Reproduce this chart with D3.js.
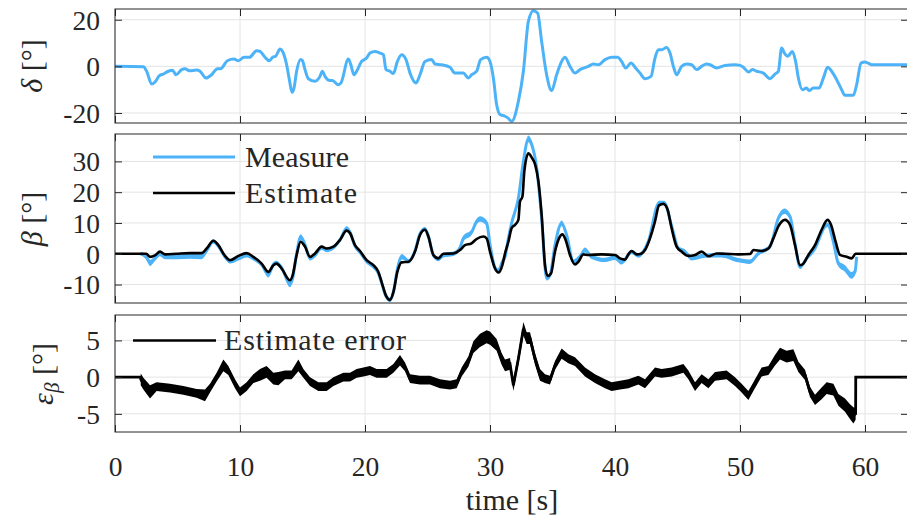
<!DOCTYPE html>
<html><head><meta charset="utf-8">
<script src="https://cdn.jsdelivr.net/npm/d3@7"></script>
<style>
body{margin:0;background:#fff;overflow:hidden}
text{font-family:"Liberation Serif","Times New Roman",serif;fill:#262626}
</style>
</head><body>
<svg id="chart" width="907" height="522"></svg>
<script>
// ---------- data ----------
const timeTicks = [0, 10, 20, 30, 40, 50, 60];
const deltaTicks = [-20, 0, 20];
const betaTicks = [-10, 0, 10, 20, 30];
const errTicks = [-5, 0, 5];
const timeLabel = "time [s]";
const legendBeta = ["Measure", "Estimate"];
const legendErr = ["Estimate error"];

// steering angle delta [deg]: [t, value]
const delta = [[0,0],[2.27,-0.2],[2.53,-2.1],[2.93,-7.6],[3.2,-6.7],[3.55,-4],[3.87,-3.3],[4.27,-2.1],[4.6,-1.7],[4.88,-3.6],[5.33,-1.4],[5.6,-1.0],[5.95,-1.9],[6.53,-1.6],[6.8,-2.1],[7.28,-5],[7.73,-3.6],[8.19,-1],[8.45,-1],[8.99,2.4],[9.52,3.1],[9.87,2.4],[10.32,3.9],[10.75,3.9],[11.33,6.7],[11.6,6.4],[12,3.9],[12.35,2.4],[12.61,3.9],[12.85,4.3],[13.2,7.4],[13.41,6.4],[13.73,0.7],[13.95,-5.7],[14.16,-11.1],[14.32,-9.3],[14.53,-2.1],[14.85,2.9],[15.0,2.4],[15.2,-1.4],[15.47,-5.3],[16,-6.4],[16.4,-4.3],[16.59,-2.1],[16.8,-4.3],[17.2,-6.1],[17.4,-6.1],[17.87,-7.9],[18.08,-7.1],[18.67,3.1],[18.85,1.0],[19.12,-3.6],[19.33,-2.1],[19.73,2.1],[20.13,3.6],[20.4,5.7],[20.8,6.4],[21.2,5.7],[21.47,5],[21.68,-1.4],[22.0,-2.1],[22.27,-3.1],[22.59,2.1],[22.93,5],[23.28,2.9],[23.6,-2.9],[24.08,-7.1],[24.4,-3.6],[24.8,2.1],[25.33,2.9],[25.6,1],[26.13,0.7],[26.8,-0.4],[27.2,-2.9],[27.87,-2.9],[28.27,-5],[28.53,-3.6],[28.93,-2.1],[29.25,2.9],[29.73,3.9],[30,2.1],[30.27,-5],[30.53,-16.4],[30.8,-20.7],[31.2,-21.4],[31.45,-22.2],[31.73,-23.6],[32.27,-15],[32.67,-2.1],[33.07,19.3],[33.47,23.9],[33.81,22.9],[34.13,10.7],[34.53,-3.6],[34.93,-10.4],[35.33,-3.6],[35.73,2.1],[36,3.9],[36.4,0],[36.8,-2.9],[37.2,-1.4],[37.87,0],[38.27,1],[38.67,0.7],[39.2,2.9],[39.73,3.9],[40.21,3.9],[40.53,2.1],[40.85,-0.7],[41.28,1.4],[41.65,-0.7],[42.0,-2.9],[42.4,-5.3],[42.88,-4.3],[43.2,3.6],[43.47,7.1],[43.73,7.1],[44.13,8.1],[44.4,5.7],[44.67,0],[44.93,-3.6],[45.33,0],[45.73,1],[46.13,0.7],[46.53,-1.4],[46.93,0],[47.33,1],[47.6,0.7],[48.13,-0.7],[48.8,0.4],[49.6,0.7],[50,0.4],[50.27,-0.4],[50.67,-2.4],[50.99,-1.4],[51.33,-2.1],[51.87,-2.9],[52.4,-5.3],[52.8,-3.3],[53.07,-2.1],[53.33,7.9],[53.55,5.7],[53.81,4.3],[54.19,6.4],[54.45,2.1],[54.67,-5],[54.99,-10],[55.33,-9.3],[55.52,-10.4],[55.87,-9.3],[56.32,-9.3],[56.67,-5],[57.01,-0.4],[57.33,-2.1],[57.73,-5.7],[58.13,-10],[58.4,-12.4],[59.07,-12.4],[59.33,-7.9],[59.68,1.4],[60,1.9],[60.53,0.7],[63.44,0.7]];

// side-slip estimate beta [deg]: [t, value]
const betaEstimate = [[0,0],[2.5,0],[2.8,-1],[3.2,-0.5],[3.6,0.7],[4.0,-0.2],[4.93,0],[6,0.2],[6.93,0.2],[7.33,1.7],[7.87,4.2],[8.27,2.8],[8.8,-0.7],[9.2,-2.1],[9.87,-0.7],[10.53,0.2],[11.07,-1],[11.73,-3.2],[12.27,-5.9],[12.67,-3.7],[12.93,-3.2],[13.33,-4.8],[14,-8.6],[14.21,-7],[14.53,-0.4],[14.85,3.9],[15.2,2.3],[15.6,-1],[16,0.1],[16.53,2.3],[16.93,1.7],[17.47,2.3],[18,4.5],[18.53,7.5],[18.8,6.7],[19.2,2.8],[19.6,0.9],[20.13,-2.1],[20.67,-3.7],[21.07,-5.9],[21.33,-9.2],[21.68,-13.6],[22,-15],[22.27,-12.5],[22.59,-5.9],[22.93,-2.8],[23.47,-2.6],[24,0.7],[24.4,6.1],[24.8,7.8],[25.07,5.6],[25.47,-0.4],[25.87,-1.5],[26.27,0],[27.07,0.1],[27.6,1.2],[28,2.8],[28.53,3.4],[28.93,4.8],[29.47,5.6],[29.73,5],[30,0.7],[30.4,-4.8],[30.67,-6.1],[31.0,-3.5],[31.2,0.1],[31.47,3.9],[31.73,8.3],[32,9.4],[32.27,11],[32.4,17],[32.59,18.5],[32.75,26.9],[33.07,32.6],[33.33,31.3],[33.6,29.1],[33.87,23.6],[34.13,12.7],[34.4,-3.7],[34.61,-7.2],[34.88,-6.4],[35.2,0.7],[35.52,5],[35.79,6.3],[36.05,4.5],[36.4,-0.4],[36.8,-3.5],[37.07,-2.6],[37.47,-0.2],[37.87,-0.4],[38.93,-0.2],[40,-0.4],[40.4,-1.5],[40.8,-1.9],[41.07,-0.2],[41.33,0.9],[41.73,-0.2],[42.13,0.1],[42.4,1.2],[42.8,5],[43.2,10.5],[43.52,15.7],[43.87,16.2],[44.21,14.3],[44.53,8.3],[44.93,2.3],[45.33,0.7],[45.87,-0.7],[46.4,-0.4],[46.93,0.7],[47.47,-0.8],[48.13,0.1],[48.8,0],[49.87,-0.2],[50.8,-0.1],[51.07,1.2],[51.73,0.9],[52.27,1.7],[52.67,5],[53.07,8.9],[53.6,11],[54,9.4],[54.4,2.8],[54.8,-3.7],[55.07,-3.2],[55.47,-0.4],[56,2.8],[56.53,7.8],[57.01,11],[57.28,9.4],[57.65,3.9],[58,-0.4],[58.53,-1],[58.93,-1.5],[59.25,0],[63.44,0]];

// side-slip measure beta [deg]: [t, value, noise half-band]
const betaMeasure = [[2.05,0,0.6],[2.5,-1,0.9],[2.8,-3,1.0],[3.2,-1.5,0.8],[3.6,0,0.8],[4.0,-1,0.8],[5,-1,0.8],[6,-0.8,0.8],[6.93,-1,0.8],[7.33,1,0.7],[7.87,4,0.7],[8.27,2.5,0.7],[8.8,-1,0.7],[9.2,-2.5,0.7],[9.87,-1.5,0.7],[10.53,-0.5,0.7],[11.07,-1.5,0.7],[11.73,-3.5,0.7],[12.27,-6.8,0.9],[12.67,-3.5,0.8],[12.93,-3,0.7],[13.33,-4.5,0.7],[14,-10,0.9],[14.21,-8,0.7],[14.53,0,0.7],[14.85,5.5,0.8],[15.2,3,0.7],[15.6,-1.5,0.7],[16,-0.5,0.7],[16.53,2,0.7],[16.93,1.2,0.7],[17.47,2,0.7],[18,4.5,0.7],[18.53,8.2,0.7],[18.8,7,0.7],[19.2,2.5,0.7],[19.6,0.5,0.7],[20.13,-2.5,0.7],[20.67,-4.2,0.7],[21.07,-6.3,0.7],[21.33,-9.5,0.7],[21.68,-13.8,0.7],[22,-15,0.7],[22.27,-12.5,0.7],[22.59,-5,0.7],[22.93,-1,0.9],[23.2,-1.5,0.7],[23.47,-2.5,0.7],[24,1,0.7],[24.4,6.5,0.7],[24.8,8,0.7],[25.07,5.8,0.7],[25.47,-0.5,0.7],[25.87,-1.7,0.7],[26.27,-0.5,0.7],[27.07,0,0.7],[27.6,2,0.8],[27.87,5,0.9],[28.53,7,0.9],[28.93,10.5,0.9],[29.2,11.3,0.9],[29.73,10,0.9],[30,3,0.7],[30.4,-4.5,0.7],[30.67,-5.5,0.7],[31.0,-2.5,0.7],[31.2,-1,0.7],[31.47,5,0.8],[31.73,10,0.9],[32.27,18,0.9],[32.67,30,1.1],[33.07,37.3,1.1],[33.33,35.6,1.1],[33.73,28,0.9],[34.13,11.6,0.7],[34.53,-8,0.7],[34.8,-7,0.7],[35.2,2.8,0.8],[35.73,9.9,0.9],[36.13,6.1,0.8],[36.67,-2.6,0.7],[37.2,-1,0.8],[37.6,1.2,0.8],[38.13,-1,0.7],[39.2,-2,0.7],[40,-1.3,0.7],[40.53,-2.8,0.7],[41.33,0.6,0.7],[41.87,-0.6,0.7],[42.67,4,0.7],[43.52,16.5,0.7],[43.95,16.5,0.7],[44.53,9,0.7],[45.07,1.7,0.7],[45.6,0.7,0.7],[46.13,-1.5,0.7],[47.2,-0.6,0.7],[48.5,-0.5,0.7],[49.87,-2.1,0.7],[50.8,-2.6,0.7],[51.47,0.1,0.7],[52.4,2.3,0.7],[53.07,11.6,0.9],[53.55,13.8,0.9],[54,12.1,0.9],[54.4,3.4,0.7],[54.8,-4.3,0.7],[55.33,-1.5,0.7],[56,1.7,0.7],[56.8,8.9,0.7],[57.01,9.4,0.7],[57.47,3.9,0.7],[57.87,-3.2,0.9],[58.4,-4.8,1.1],[58.93,-7,1.1],[59.2,-5.9,1.1],[59.33,-1,0.7]];

// estimate error [deg]: [t, value, noise half-band]
const estimateError = [[0,0,0],[2.05,0,0],[2.06,-0.3,0.8],[2.27,-0.9,0.8],[2.8,-2,0.9],[3.33,-1.3,0.6],[4.4,-1.5,0.6],[5.47,-1.8,0.6],[6.53,-2.2,0.6],[7.2,-2.5,0.8],[7.6,-1.5,0.6],[8.13,0,0.6],[8.67,1.6,0.8],[9.07,0.9,0.6],[9.6,-0.9,0.6],[10,-2,0.6],[10.53,-1.3,0.6],[11.07,-0.2,0.6],[11.6,0.3,0.8],[12.13,0.7,0.8],[12.67,-0.2,0.8],[13.07,-0.2,0.9],[13.6,0.3,0.6],[14.13,0.3,0.6],[14.67,1.6,0.8],[15.07,0.5,0.6],[15.6,-0.6,0.6],[16.27,-1.3,0.6],[16.93,-1.3,0.6],[17.47,-0.6,0.6],[18.27,0,0.6],[18.8,0,0.6],[19.33,0.5,0.6],[19.87,0.7,0.6],[20.4,0.9,0.6],[20.93,0.5,0.6],[21.73,0.5,0.6],[22.27,1.2,0.6],[22.8,2.3,0.7],[23.2,1.4,0.6],[23.6,-0.2,0.6],[24.4,-0.4,0.6],[25.2,-0.4,0.6],[26,-0.9,0.6],[26.8,-1.1,0.6],[27.33,-0.9,0.6],[27.73,0.7,0.6],[28.27,2.1,0.7],[28.67,4.1,0.8],[29.2,5,0.9],[29.73,5.5,0.9],[30,5.3,0.9],[30.53,4.4,0.8],[30.93,2.5,0.8],[31.2,1.6,0.8],[31.6,1.8,0.8],[31.87,-1.1,0.8],[32.27,2.5,0.8],[32.67,6.6,0.9],[32.93,5.3,0.8],[33.2,5.3,0.8],[33.6,2.5,0.8],[34,0.3,0.8],[34.4,-0.2,0.6],[34.8,-0.4,0.6],[35.2,1.6,0.6],[35.73,3.2,0.7],[36.27,2.5,0.6],[36.8,2.1,0.6],[37.6,0.7,0.6],[38.4,-0.2,0.6],[39.2,-0.9,0.6],[39.73,-1.3,0.6],[40.4,-1.1,0.6],[41.07,-0.9,0.6],[41.87,-0.4,0.6],[42.4,-0.9,0.6],[43.2,0.7,0.6],[43.73,0.5,0.6],[44.53,0.7,0.6],[45.47,1.2,0.6],[45.87,0.3,0.6],[46.4,-1.3,0.6],[46.93,-0.2,0.6],[47.47,-0.9,0.6],[48,0.1,0.6],[48.93,0.3,0.6],[49.6,-0.6,0.6],[50.13,-1.5,0.6],[50.67,-2.5,0.6],[51.07,-1.3,0.6],[51.73,0.7,0.6],[52.27,0.9,0.6],[52.8,2.3,0.7],[53.2,3.2,0.8],[53.73,2.8,0.8],[54.27,3,0.8],[54.67,1.4,0.7],[55.2,0.3,0.7],[55.6,-2,0.7],[56,-3.1,0.7],[56.53,-2.2,0.8],[56.93,-1.5,0.8],[57.47,-1.7,0.8],[57.87,-3.1,0.8],[58.4,-3.8,0.9],[58.8,-4.7,1.0],[59.07,-5.2,1.1],[59.25,-5,0.8],[59.26,0,0],[63.44,0,0]];

// ---------- layout ----------
const blue = "#4db3f8", ink = "#262626", gridCol = "#e4e4e4";
const L = 115, R = 908;
const panels = [
  {top: 9,   bottom: 123, domain: [-24.3, 24.6], ticks: deltaTicks},
  {top: 134, bottom: 303, domain: [-16, 38.9],   ticks: betaTicks},
  {top: 315, bottom: 432, domain: [-7.47, 8.46], ticks: errTicks}
];
const svg = d3.select("#chart");
const x = d3.scaleLinear().domain([0, 63.44]).range([L, R]);
panels.forEach((p, i) => { p.y = d3.scaleLinear().domain(p.domain).range([p.bottom, p.top]); });

panels.forEach((p, i) => {
  // clip
  svg.append("clipPath").attr("id", "clip" + i).append("rect")
    .attr("x", L).attr("y", p.top).attr("width", R - L).attr("height", p.bottom - p.top);
  // grid
  const g = svg.append("g");
  g.selectAll(".vg").data(timeTicks).join("line")
    .attr("x1", d => x(d)).attr("x2", d => x(d)).attr("y1", p.top).attr("y2", p.bottom)
    .attr("stroke", gridCol).attr("stroke-width", 1);
  g.selectAll(".hg").data(p.ticks).join("line")
    .attr("x1", L).attr("x2", R).attr("y1", d => p.y(d)).attr("y2", d => p.y(d))
    .attr("stroke", gridCol).attr("stroke-width", 1);
  p.data = svg.append("g").attr("clip-path", `url(#clip${i})`);
});

// ---------- marks ----------
const P0 = panels[0], P1 = panels[1], P2 = panels[2];
P0.data.append("path").datum(delta)
  .attr("d", d3.line().x(d => x(d[0])).y(d => P0.y(d[1])).curve(d3.curveMonotoneX))
  .attr("fill", "none").attr("stroke", blue).attr("stroke-width", 3).attr("stroke-linejoin", "round");

P1.data.append("path").datum(betaMeasure)
  .attr("d", d3.area().x(d => x(d[0])).y0(d => P1.y(d[1] - d[2])).y1(d => P1.y(d[1] + d[2])).curve(d3.curveMonotoneX))
  .attr("fill", blue);
P1.data.append("path").datum(betaMeasure)
  .attr("d", d3.line().x(d => x(d[0])).y(d => P1.y(d[1])).curve(d3.curveMonotoneX))
  .attr("fill", "none").attr("stroke", blue).attr("stroke-width", 3);
P1.data.append("path").datum(betaEstimate)
  .attr("d", d3.line().x(d => x(d[0])).y(d => P1.y(d[1])).curve(d3.curveMonotoneX))
  .attr("fill", "none").attr("stroke", "#000").attr("stroke-width", 2.6).attr("stroke-linejoin", "round");

P2.data.append("path").datum(estimateError)
  .attr("d", d3.area().x(d => x(d[0])).y0(d => P2.y(d[1] - d[2])).y1(d => P2.y(d[1] + d[2])))
  .attr("fill", "#000");
P2.data.append("path").datum(estimateError)
  .attr("d", d3.line().x(d => x(d[0])).y(d => P2.y(d[1])))
  .attr("fill", "none").attr("stroke", "#000").attr("stroke-width", 2.8);

// ---------- axes (ticks inward, box) ----------
panels.forEach((p, i) => {
  const axL = svg.append("g").attr("transform", `translate(${L},0)`)
    .call(d3.axisLeft(p.y).tickValues(p.ticks).tickSize(-7).tickPadding(15).tickFormat(d3.format("d")));
  const axR = svg.append("g").attr("transform", `translate(${R},0)`)
    .call(d3.axisRight(p.y).tickValues(p.ticks).tickSize(-7).tickFormat(""));
  const axT = svg.append("g").attr("transform", `translate(0,${p.top})`)
    .call(d3.axisTop(x).tickValues(timeTicks).tickSize(-7).tickFormat(""));
  const axB = svg.append("g").attr("transform", `translate(0,${p.bottom})`)
    .call(d3.axisBottom(x).tickValues(timeTicks).tickSize(-7).tickPadding(24)
      .tickFormat(i === 2 ? d3.format("d") : ""));
  [axL, axR, axT, axB].forEach(a => {
    a.select(".domain").remove();
    a.selectAll("line").attr("stroke", ink).attr("stroke-width", 1);
    a.selectAll("text").attr("font-size", 27.5).attr("font-family", "Liberation Serif").attr("fill", ink);
  });
  axL.selectAll("text").attr("dy", "0.34em").text(d => d < 0 ? "-" + Math.abs(d) : d);
  svg.append("rect").attr("x", L).attr("y", p.top).attr("width", R - L).attr("height", p.bottom - p.top)
    .attr("fill", "none").attr("stroke", ink).attr("stroke-width", 1);
});

// ---------- labels ----------
function yLabel(cx, cy, sym, sub) {
  const t = svg.append("text").attr("transform", `translate(${cx},${cy}) rotate(-90)`)
    .attr("text-anchor", "middle").attr("font-size", 30);
  t.append("tspan").attr("font-style", "italic").text(sym);
  if (sub) t.append("tspan").attr("font-style", "italic").attr("font-size", 21).attr("dy", 6).text(sub);
  t.append("tspan").attr("dy", sub ? -6 : 0).text(" [°]");
}
yLabel(42, 66, "δ");
yLabel(42, 219, "β");
yLabel(53, 374, "ε", "β");

svg.append("text").attr("x", 512).attr("y", 510).attr("text-anchor", "middle")
  .attr("font-size", 30).text(timeLabel);

// ---------- legends ----------
const legItems = [
  {x1: 153, x2: 235, y: 157, col: blue, w: 3, label: legendBeta[0], tl: 104, tx: 245},
  {x1: 153, x2: 235, y: 193, col: "#000", w: 2.6, label: legendBeta[1], tl: 112, tx: 245},
  {x1: 133, x2: 216, y: 340.5, col: "#000", w: 2.6, label: legendErr[0], tl: 182, tx: 224}
];
legItems.forEach(it => {
  svg.append("line").attr("x1", it.x1).attr("x2", it.x2).attr("y1", it.y).attr("y2", it.y)
    .attr("stroke", it.col).attr("stroke-width", it.w);
  svg.append("text").attr("x", it.tx).attr("y", it.y).attr("dy", "0.33em")
    .attr("font-size", 30).attr("fill", "#000").attr("textLength", it.tl).attr("lengthAdjust", "spacing")
    .text(it.label);
});
</script>
</body></html>
